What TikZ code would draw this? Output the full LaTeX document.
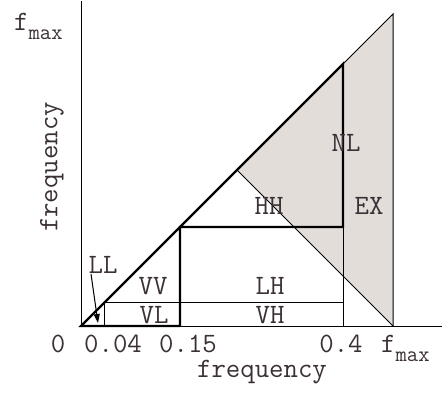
\documentclass[tikz,border=0pt]{standalone}
\usetikzlibrary{arrows.meta}
\definecolor{regionfill}{RGB}{227,221,217}
\definecolor{txt}{RGB}{58,48,54}
\newcommand{\fmaxlbl}{f\raisebox{-9pt}{\fontsize{22}{24}\selectfont max}}
\tikzset{
  lbl/.style={font=\ttfamily\fontsize{28}{30}\selectfont, text=txt, inner sep=0pt},
  thick line/.style={line width=2.3pt, black},
  thin line/.style={line width=1pt, black},
}
\begin{document}
\begin{tikzpicture}[x=1pt,y=-1pt]
\useasboundingbox (0,0) rectangle (442,392);
% key points
\coordinate (O) at (81,326);
\coordinate (Ytop) at (81,1);
\coordinate (Xend) at (442,326);
\coordinate (A04) at (104,326);
\coordinate (A04t) at (104,302);
\coordinate (A15) at (180,326);
\coordinate (D15) at (180,227);
\coordinate (H40) at (343,227);
\coordinate (M40) at (343,302);
\coordinate (A40) at (343,326);
\coordinate (D40) at (343,64);
\coordinate (Dmid) at (237,170);
\coordinate (Dtop) at (393,14);
\coordinate (Amax) at (393,326);
% shaded region
\fill[regionfill] (Dmid) -- (Dtop) -- (Amax) -- cycle;
% thin lines
\draw[thin line] (Ytop) -- (O) -- (Xend);
\draw[thin line] (D40) -- (Dtop) -- (Amax);
\draw[thin line] (Dmid) -- (Amax);
\draw[thin line] (H40) -- (A40);
\draw[thin line] (A04t) -- (M40);
\draw[thin line] (A04t) -- (A04);
% thick lines
\draw[thick line, line join=miter] (A15) -- (O) -- (D40) -- (H40) -- (D15) -- (A15);
% region labels
\node[lbl] (LL) at (103,265) {LL};
\node[lbl] (VV) at (153,286) {VV};
\node[lbl] (VL) at (154,315) {VL};
\node[lbl] (LH) at (270,286) {LH};
\node[lbl] (VH) at (270,315) {VH};
\node[lbl] (HH) at (269,206) {HH};
\node[lbl] (EX) at (369,206) {EX};
\node[lbl] (NL) at (346,143) {NL};
\coordinate (LLfrom) at (91,274);
\coordinate (LLtip) at (98,323);
\draw[thin line, -{Triangle[length=9pt,width=6pt]}] (LLfrom) -- (LLtip);
% axis labels
\node[lbl, anchor=base] (t0) at (58,352) {0};
\node[lbl, anchor=base] (t04) at (113,352) {0.04};
\node[lbl, anchor=base] (t15) at (188,352) {0.15};
\node[lbl, anchor=base] (t40) at (341,352) {0.4};
\node[lbl, anchor=base west] (tmax) at (381,352) {\fmaxlbl};
\node[lbl, anchor=base] (xlab) at (262,377) {frequency};
\node[lbl, anchor=base west] (ymax) at (14,30) {\fmaxlbl};
\node[lbl, rotate=90] (ylab) at (52,167) {frequency};
\end{tikzpicture}
\end{document}
